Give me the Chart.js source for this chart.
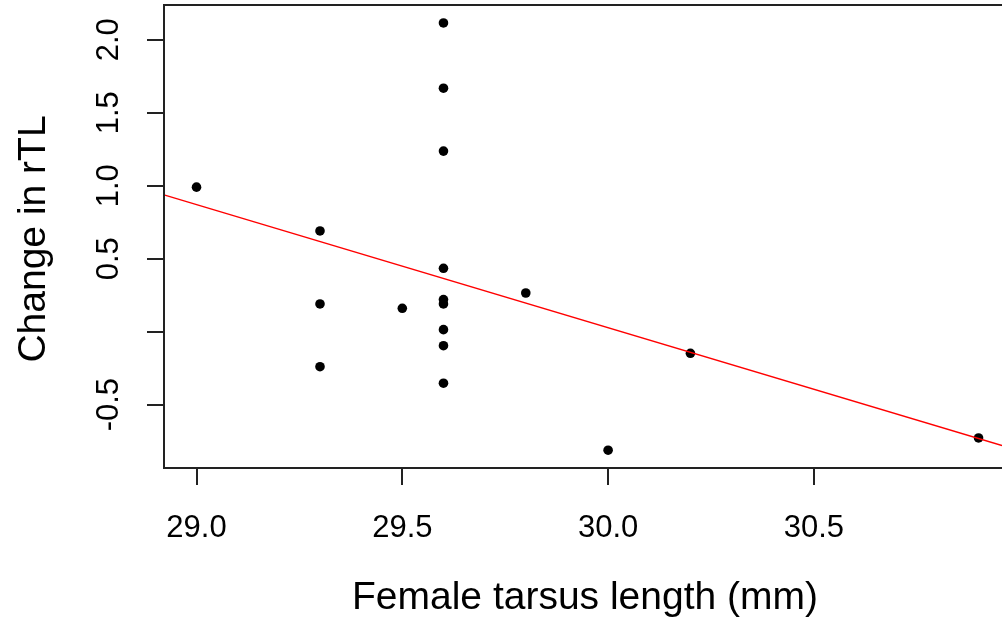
<!DOCTYPE html>
<html>
<head>
<meta charset="utf-8">
<script src="https://cdn.jsdelivr.net/npm/chart.js@4/dist/chart.umd.min.js"></script>
<style>
  html, body { margin: 0; padding: 0; background: #ffffff; overflow: hidden; }
  #wrap { width: 1002px; height: 625px; position: relative; }
  canvas { display: block; }
</style>
</head>
<body>
<div id="wrap"><canvas id="c" width="1002" height="625"></canvas></div>
<script>
// ---- data ----
const tarsusLength = [29.0, 29.3, 29.3, 29.3, 29.5, 29.6, 29.6, 29.6, 29.6, 29.6, 29.6, 29.6, 29.6, 29.6, 29.8, 30.0, 30.2, 30.9];
const changeRTL    = [0.99, 0.69, 0.19, -0.24, 0.16, 2.115, 1.668, 1.237, 0.434, 0.22, 0.19, 0.014, -0.096, -0.353, 0.265, -0.812, -0.148, -0.728];

const xTicks = [29.0, 29.5, 30.0, 30.5];
const xTickLabels = ['29.0', '29.5', '30.0', '30.5'];
const yTicks = [-0.5, 0.0, 0.5, 1.0, 1.5, 2.0];
const yTickLabels = ['-0.5', '', '0.5', '1.0', '1.5', '2.0'];

// visible part of the plot region (right edge of the box is cropped off)
const xLimits = [28.921, 30.957];
const yLimits = [-0.934, 2.238];

const xTitle = 'Female tarsus length (mm)';
const yTitle = 'Change in rTL';

// ---- least-squares fit (abline(lm(y ~ x))) ----
const n = tarsusLength.length;
const mx = tarsusLength.reduce((a, b) => a + b, 0) / n;
const my = changeRTL.reduce((a, b) => a + b, 0) / n;
let sxy = 0, sxx = 0;
for (let i = 0; i < n; i++) {
  sxy += (tarsusLength[i] - mx) * (changeRTL[i] - my);
  sxx += (tarsusLength[i] - mx) * (tarsusLength[i] - mx);
}
const slope = sxy / sxx;
const intercept = my - slope * mx;
const fitLine = xLimits.map(x => ({ x: x, y: intercept + slope * x }));

const points = tarsusLength.map((x, i) => ({ x: x, y: changeRTL[i] }));

// ---- R-style axes, box and labels ----
const rAxes = {
  id: 'rAxes',
  afterDraw(chart) {
    const ctx = chart.ctx;
    const a = chart.chartArea;
    const xs = chart.scales.x, ys = chart.scales.y;
    const tick = 17;
    ctx.save();
    ctx.strokeStyle = '#222';
    ctx.lineWidth = 2;
    // box (left, top, bottom; right side lies outside the picture)
    ctx.beginPath();
    ctx.moveTo(a.right + 10, a.top);
    ctx.lineTo(a.left, a.top);
    ctx.lineTo(a.left, a.bottom);
    ctx.lineTo(a.right + 10, a.bottom);
    // x ticks
    xTicks.forEach(v => {
      const px = Math.round(xs.getPixelForValue(v));
      ctx.moveTo(px, a.bottom);
      ctx.lineTo(px, a.bottom + tick);
    });
    // y ticks
    yTicks.forEach(v => {
      const py = Math.round(ys.getPixelForValue(v));
      ctx.moveTo(a.left, py);
      ctx.lineTo(a.left - tick, py);
    });
    ctx.stroke();

    ctx.fillStyle = '#000';
    // x tick labels
    ctx.font = '31px "Liberation Sans", Arial, sans-serif';
    ctx.textAlign = 'center';
    ctx.textBaseline = 'alphabetic';
    xTicks.forEach((v, i) => {
      ctx.fillText(xTickLabels[i], xs.getPixelForValue(v), 537);
    });
    // y tick labels (parallel to axis)
    yTicks.forEach((v, i) => {
      if (!yTickLabels[i]) return;
      ctx.save();
      ctx.translate(118, ys.getPixelForValue(v));
      ctx.rotate(-Math.PI / 2);
      ctx.fillText(yTickLabels[i], 0, 0);
      ctx.restore();
    });
    // axis titles
    ctx.font = '39px "Liberation Sans", Arial, sans-serif';
    ctx.fillText(xTitle, 585, 609);
    ctx.save();
    ctx.translate(45, 239);
    ctx.rotate(-Math.PI / 2);
    ctx.fillText(yTitle, 0, 0);
    ctx.restore();
    ctx.restore();
  }
};

new Chart(document.getElementById('c'), {
  type: 'scatter',
  data: {
    datasets: [
      {
        type: 'line',
        label: 'fit',
        data: fitLine,
        borderColor: '#ff0000',
        borderWidth: 1.3,
        pointRadius: 0,
        fill: false,
        tension: 0,
        clip: 2,
        order: 0
      },
      {
        label: 'points',
        data: points,
        backgroundColor: '#000000',
        borderColor: '#000000',
        borderWidth: 0,
        pointRadius: 4.8,
        pointHoverRadius: 4.8,
        order: 1
      }
    ]
  },
  options: {
    responsive: false,
    animation: false,
    events: [],
    layout: { autoPadding: false, padding: { left: 164, top: 5, right: 0, bottom: 157 } },
    plugins: { legend: { display: false }, tooltip: { enabled: false } },
    scales: {
      x: { type: 'linear', min: xLimits[0], max: xLimits[1], display: false },
      y: { type: 'linear', min: yLimits[0], max: yLimits[1], display: false }
    }
  },
  plugins: [rAxes]
});
</script>
</body>
</html>
